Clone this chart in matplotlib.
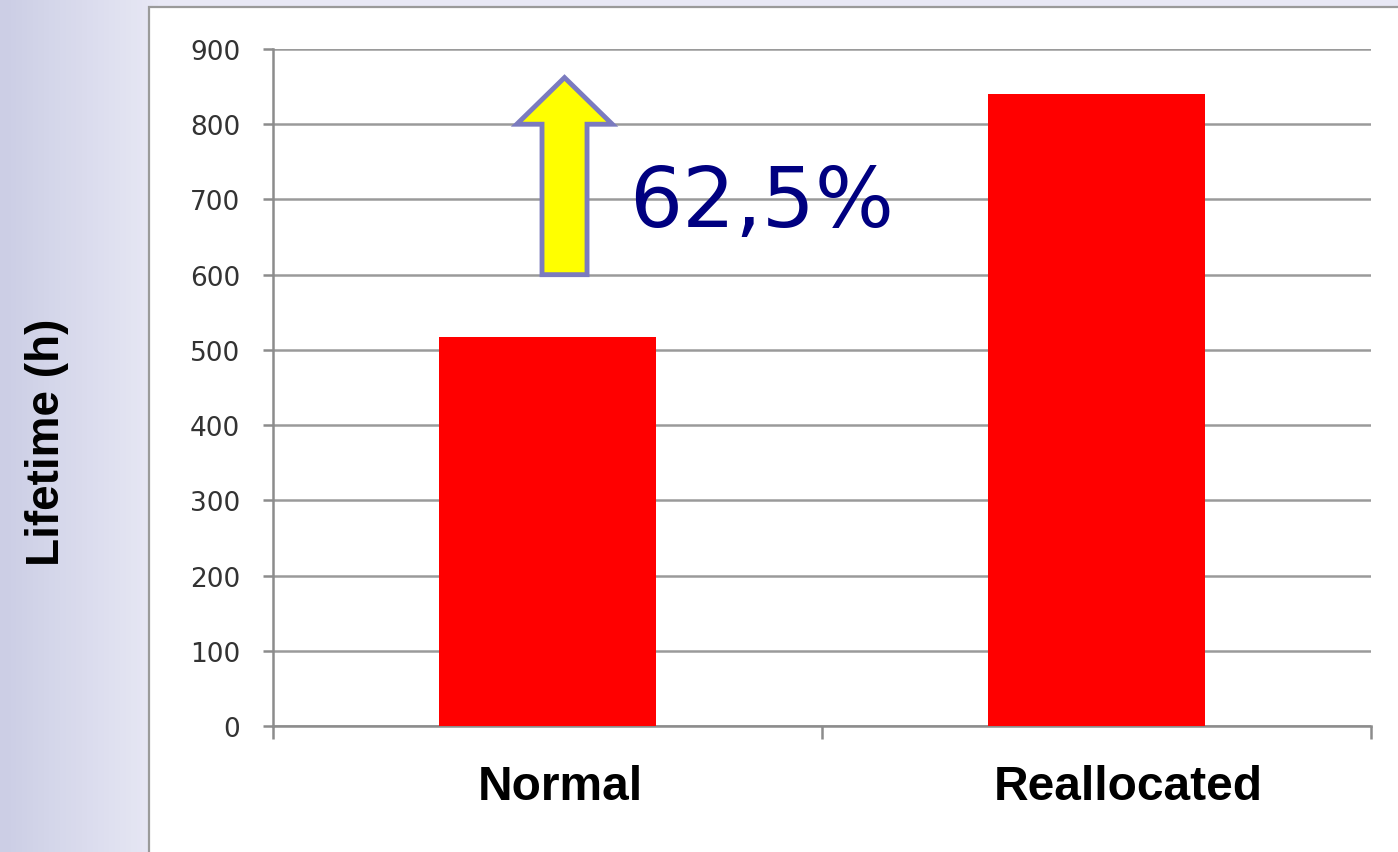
import numpy as np
import matplotlib.pyplot as plt
from matplotlib.patches import Rectangle, FancyArrow

# Lifetime per allocation strategy (hours)
categorias = ['Normal', 'Reallocated']
lifetime_h = [517, 840]
yticks = list(range(0, 901, 100))

# Arrow marking the improvement (y range in hours)
flecha_base = 600
flecha_punta = 862

mejora = (lifetime_h[1] / lifetime_h[0] - 1) * 100
texto_mejora = f"{mejora:.1f}".replace('.', ',') + '%'

fig = plt.figure(figsize=(13.98, 8.53), dpi=100)

# Background: lavender gradient with a white framed panel
bg = fig.add_axes([0, 0, 1, 1])
bg.set_xlim(0, 1)
bg.set_ylim(0, 1)
bg.axis('off')
c0 = np.array([204, 206, 229]) / 255
c1 = np.array([232, 232, 245]) / 255
t = np.linspace(0, 1, 256)[None, :, None]
grad = c0 + (c1 - c0) * np.clip(t * 9, 0, 1)
bg.imshow(grad, extent=[0, 1, 0, 1], aspect='auto', zorder=0)
bg.add_patch(Rectangle((149 / 1398, -0.05), 1.0, 1.05 - 8 / 853,
                       facecolor='white', edgecolor='#9a9a9a', lw=1.6, zorder=1))

ax = fig.add_axes([273 / 1398, 1 - 727 / 853, (1371 - 273) / 1398, (727 - 50) / 853])
ax.set_facecolor('none')
x = np.arange(len(categorias))
ax.bar(x, lifetime_h, width=0.394, color='#ff0000', zorder=3)

ax.set_xlim(-0.5, 1.5)
ax.set_ylim(0, 900)
ax.set_yticks(yticks)
ax.yaxis.grid(True, color='#9a9a9a', lw=1.8)
ax.set_axisbelow(True)
for s in ['top', 'right']:
    ax.spines[s].set_visible(False)
for s in ['left', 'bottom']:
    ax.spines[s].set_color('#8c8c8c')
    ax.spines[s].set_linewidth(1.8)

ax.tick_params(axis='y', length=7.5, width=1.8, color='#8c8c8c', pad=16,
               labelsize=19, labelcolor='#333333')
ax.set_xticks([-0.5, 0.5, 1.5])
ax.set_xticklabels([])
ax.tick_params(axis='x', length=9, width=1.8, color='#8c8c8c')

# Category names sit a little right of the bar centres
desplazamiento = [0.024, 0.057]
for xi, nombre, d in zip(x, categorias, desplazamiento):
    ax.text(xi + d, -0.056, nombre, transform=ax.get_xaxis_transform(),
            ha='center', va='top', fontsize=34.5, fontweight='bold',
            family='Liberation Sans')

fig.text(47 / 1398, 1 - 442 / 853, 'Lifetime (h)', rotation=90, ha='center',
         va='center', fontsize=33, fontweight='bold', family='Liberation Sans')

# Improvement arrow and percentage
ax.add_patch(FancyArrow(0.031, flecha_base, 0, flecha_punta - flecha_base,
                        width=0.082, head_width=0.174, head_length=62,
                        length_includes_head=True, facecolor='#ffff00',
                        edgecolor='#7b7bbf', lw=3.5, zorder=5, clip_on=False))
ax.text(0.148, 665, texto_mejora, fontsize=60, color='#000080',
        ha='left', va='baseline', zorder=6)

fig.savefig('out.png', dpi=100)
